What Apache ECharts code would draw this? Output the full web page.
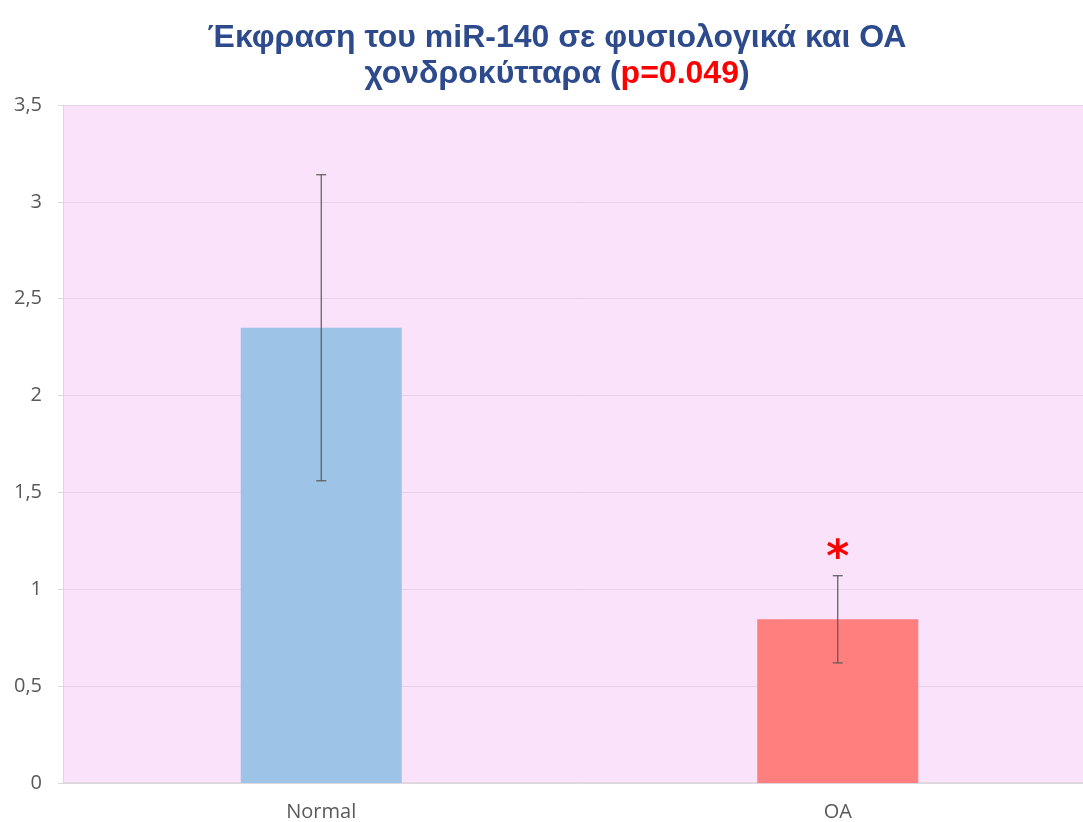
<!DOCTYPE html>
<html>
<head>
<meta charset="utf-8">
<script src="https://cdn.jsdelivr.net/npm/echarts@6/dist/echarts.min.js"></script>
<style>html,body{margin:0;padding:0;background:#fff;overflow:hidden}#c{width:1096px;height:822px}</style>
</head>
<body>
<div id="c"></div>
<script>
const categories = ["Normal", "OA"];
const means = [2.35, 0.845];
const errors = [0.79, 0.225];
const significance = ["", "*"];
const barColors = ["#9DC3E6", "#FF7F7F"];

const chart = echarts.init(document.getElementById('c'));
const option = {
  animation: false,
  title: {
    text: '{t|Έκφραση του miR-140 σε φυσιολογικά και ΟΑ}\n{t|χονδροκύτταρα (}{r|p=0.049}{t|)}',
    left: 552, textAlign: 'center',
    top: 15,
    textStyle: {
      rich: {
        t: { fontFamily: 'Liberation Sans, sans-serif', fontWeight: 'bold', fontSize: 32, color: '#2C4A8C', lineHeight: 36 },
        r: { fontFamily: 'Liberation Sans, sans-serif', fontWeight: 'bold', fontSize: 32, color: '#FF0000', lineHeight: 36 }
      }
    }
  },
  grid: {
    left: 63, top: 105, width: 1033, height: 679,
    show: true, backgroundColor: '#FAE2FA', borderWidth: 0
  },
  xAxis: {
    type: 'category',
    data: categories,
    axisLine: { lineStyle: { color: '#D9D9D9', width: 1.5 } },
    axisTick: { show: false },
    axisLabel: { color: '#595959', fontSize: 20, fontFamily: 'Open Sans, sans-serif', margin: 19 }
  },
  yAxis: {
    type: 'value',
    min: 0, max: 3.5, interval: 0.5,
    axisLine: { show: true, lineStyle: { color: '#D9D9D9' } },
    axisTick: { show: true, length: 5, lineStyle: { color: '#D9D9D9' } },
    splitLine: { lineStyle: { color: '#E6D2E6' } },
    axisLabel: {
      color: '#595959', fontSize: 20, fontFamily: 'Open Sans, sans-serif', margin: 21,
      formatter: v => String(v).replace('.', ',')
    }
  },
  series: [
    {
      type: 'bar',
      barWidth: 161,
      data: means.map((v, i) => ({ value: v, itemStyle: { color: barColors[i] } }))
    },
    {
      type: 'custom',
      data: means.map((v, i) => [i, v, errors[i]]),
      renderItem: function (params, api) {
        const i = api.value(0), m = api.value(1), e = api.value(2);
        const top = api.coord([i, m + e]);
        const bot = api.coord([i, m - e]);
        const x = top[0];
        const cap = 5;
        const style = { stroke: '#595959', lineWidth: 1.2 };
        const children = [
          { type: 'line', shape: { x1: x, y1: top[1], x2: x, y2: bot[1] }, style },
          { type: 'line', shape: { x1: x - cap, y1: top[1], x2: x + cap, y2: top[1] }, style },
          { type: 'line', shape: { x1: x - cap, y1: bot[1], x2: x + cap, y2: bot[1] }, style }
        ];
        const s = significance[params.dataIndex];
        if (s) {
          children.push({
            type: 'text',
            style: { text: s, x: x, y: top[1] + 6, align: 'center', verticalAlign: 'bottom',
              fill: '#FF0000', font: 'bold 44px DejaVu Sans, sans-serif' }
          });
        }
        return { type: 'group', children };
      },
      z: 5
    }
  ]
};
chart.setOption(option);
</script>
</body>
</html>
